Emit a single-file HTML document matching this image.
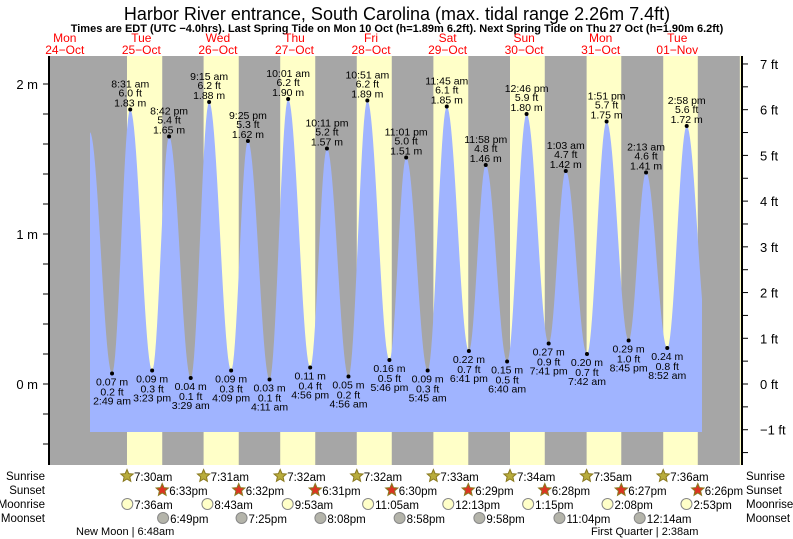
<!DOCTYPE html>
<html><head><meta charset="utf-8"><style>
html,body{margin:0;padding:0;background:#fff;}
svg{display:block;font-family:"Liberation Sans",Arial,sans-serif;}
</style></head><body>
<svg id="chart" width="793" height="539" viewBox="0 0 793 539">
<text x="397" y="20" text-anchor="middle" font-size="18" fill="#000">Harbor River entrance, South Carolina (max. tidal range 2.26m 7.4ft)</text>
<text x="397" y="32" text-anchor="middle" font-size="11" font-weight="bold" fill="#000">Times are EDT (UTC −4.0hrs). Last Spring Tide on Mon 10 Oct (h=1.89m 6.2ft). Next Spring Tide on Thu 27 Oct (h=1.90m 6.2ft)</text>
<g id="plot"></g>
</svg>
<script>
// ---- data ----
const dayNames = ["Mon","Tue","Wed","Thu","Fri","Sat","Sun","Mon","Tue"];
const dayDates = ["24\u2212Oct","25\u2212Oct","26\u2212Oct","27\u2212Oct","28\u2212Oct","29\u2212Oct","30\u2212Oct","31\u2212Oct","01\u2212Nov"];
const tideDays = [1,1,1,1,2,2,2,2,3,3,3,3,4,4,4,4,5,5,5,5,6,6,6,7,7,7,7,8,8,8];
const tideTimes = ["2:49 am","8:31 am","3:23 pm","8:42 pm","3:29 am","9:15 am","4:09 pm","9:25 pm","4:11 am","10:01 am","4:56 pm","10:11 pm","4:56 am","10:51 am","5:46 pm","11:01 pm","5:45 am","11:45 am","6:41 pm","11:58 pm","6:40 am","12:46 pm","7:41 pm","1:03 am","7:42 am","1:51 pm","8:45 pm","2:13 am","8:52 am","2:58 pm"];
const tideHeights = [0.07,1.83,0.09,1.65,0.04,1.88,0.09,1.62,0.03,1.90,0.11,1.57,0.05,1.89,0.16,1.51,0.09,1.85,0.22,1.46,0.15,1.80,0.27,1.42,0.20,1.75,0.29,1.41,0.24,1.72];
const edgeBefore = [0, "7:50 pm", 1.68];
const edgeAfter = [8, "9:40 pm", 0.30];
const sunriseTimes = ["7:30am","7:31am","7:32am","7:32am","7:33am","7:34am","7:35am","7:36am","7:37am"];
const sunsetTimes = ["6:33pm","6:32pm","6:31pm","6:30pm","6:29pm","6:28pm","6:27pm","6:26pm","6:25pm"];
const moonriseTimes = ["7:36am","8:43am","9:53am","11:05am","12:13pm","1:15pm","2:08pm","2:53pm"];
const moonsetDays = [1,2,3,4,5,6,8];
const moonsetTimes = ["6:49pm","7:25pm","8:08pm","8:58pm","9:58pm","11:04pm","12:14am"];
const mTicks = [0,1,2];
const ftTicks = [-1,0,1,2,3,4,5,6,7];

// ---- scales ----
const X0=26.5, PXH=3.19, PL=49, PR=741, PT=56, PB=465, BL=90, BR=702, BB=432;
const Y0=384, PXM=150;
function parseT(s){const m=s.trim().match(/(\d+):(\d+)\s*(am|pm)/);let h=+m[1]%12;if(m[3]=="pm")h+=12;return h+(+m[2])/60;}
function xs(day,h){return X0+(day*24+h)*PXH;}
function ym(m){return Y0-m*PXM;}
function yft(f){return Y0-f*0.3048*PXM;}
const NS="http://www.w3.org/2000/svg";
const plot=document.getElementById('plot');
function el(tag,attrs,parent,txt){const e=document.createElementNS(NS,tag);for(const k in attrs)e.setAttribute(k,attrs[k]);if(txt!==undefined)e.textContent=txt;(parent||plot).appendChild(e);return e;}

// background
let bg=el('rect',{x:PL,y:PT,width:PR-PL,height:PB-PT,fill:'#a6a6a6'});


for(let d=1;d<=9;d++){
  const sr=parseT(sunriseTimes[d-1]), ss=parseT(sunsetTimes[d-1]);
  let a=Math.max(PL,xs(d,sr)), b=Math.min(PR,xs(d,ss));
  if(b>a){const r=el('rect',{x:a,y:PT,width:b-a,height:PB-PT,fill:'#ffffc8'});
  
  }
}
// tide curve
const pts=[[xs(edgeBefore[0],parseT(edgeBefore[1])),edgeBefore[2]]];
for(let i=0;i<tideDays.length;i++)pts.push([xs(tideDays[i],parseT(tideTimes[i])),tideHeights[i]]);
pts.push([xs(edgeAfter[0],parseT(edgeAfter[1])),edgeAfter[2]]);
function hAt(x){for(let i=0;i<pts.length-1;i++){const [x1,h1]=pts[i],[x2,h2]=pts[i+1];if(x>=x1&&x<=x2){const t=(x-x1)/(x2-x1);return h1+(h2-h1)*(1-Math.cos(Math.PI*t))/2;}}return 0;}
let d=`M${BL},${BB}`;
for(let x=BL;x<=BR;x+=1)d+=` L${x},${ym(hAt(x)).toFixed(1)}`;
d+=` L${BR},${BB} Z`;
const area=el('path',{d:d,fill:'#a0b4ff'});


// extreme labels
for(let i=0;i<tideDays.length;i++){
  const x=xs(tideDays[i],parseT(tideTimes[i])), h=tideHeights[i], y=ym(h);
  const g=el('g',{'font-size':'10.5','fill':'#000','text-anchor':'middle'});
  
  
  el('circle',{cx:x,cy:y,r:2,fill:'#000'},g);
  const ft=(h*3.28084).toFixed(1)+' ft', m=h.toFixed(2)+' m';
  if(h>1){el('text',{x:x,y:y-22},g,tideTimes[i]);el('text',{x:x,y:y-13},g,ft);el('text',{x:x,y:y-3},g,m);}
  else{el('text',{x:x,y:y+12},g,m);el('text',{x:x,y:y+22},g,ft);el('text',{x:x,y:y+31},g,tideTimes[i]);}
}
// axes
let ax=el('line',{x1:PL,y1:PT,x2:PL,y2:PB,stroke:'#000','stroke-width':2});


ax=el('line',{x1:PR+1,y1:PT,x2:PR+1,y2:PB,stroke:'#000','stroke-width':2});


for(let v=-0.4;v<=2.2;v+=0.2){const y=ym(v);if(y<PT||y>PB)continue;el('line',{x1:PL-6,y1:y,x2:PL,y2:y,stroke:'#000'});}
for(const v of mTicks){const t=el('text',{x:38,y:ym(v)+5,'font-size':'13','text-anchor':'end'},plot,v+' m');
  
  }
for(let f=-1.5;f<=7;f+=0.5){const y=yft(f);if(y<PT||y>PB)continue;el('line',{x1:PR+2,y1:y,x2:PR+7,y2:y,stroke:'#000'});}
for(const f of ftTicks){const t=el('text',{x:760,y:yft(f)+5,'font-size':'13'},plot,(f<0?'\u2212'+(-f):f)+' ft');
  
  }
// day labels
for(let i=0;i<9;i++){const x=xs(i,12);
  const g=el('g',{'font-size':'12','fill':'#ff0000','text-anchor':'middle'});
  
  
  el('text',{x:x,y:42},g,dayNames[i]);el('text',{x:x,y:54},g,dayDates[i]);}
// bottom rows
const rows=["Sunrise","Sunset","Moonrise","Moonset"], ry=[476,490,504,518];
for(let r=0;r<4;r++){
  let t=el('text',{x:45,y:ry[r]+4,'font-size':'11.5','text-anchor':'end'},plot,rows[r]);
  
  
  t=el('text',{x:746,y:ry[r]+4,'font-size':'11.5'},plot,rows[r]);
  
  
}
function star(cx,cy,fill){let p='';for(let k=0;k<10;k++){const a=-Math.PI/2+k*Math.PI/5, rr=k%2?3:6.5;p+=(cx+rr*Math.cos(a)).toFixed(1)+','+(cy+rr*Math.sin(a)).toFixed(1)+' ';}return el('polygon',{points:p,fill:fill,stroke:'#8a7a20','stroke-width':1});}
function icon(kind,x,y,label){
  const g=el('g',{});
  
  
  let s;
  if(kind=='sunrise')s=star(x,y,'#b8ac3c');
  else if(kind=='sunset')s=star(x,y,'#dd3322');
  else s=el('circle',{cx:x,cy:y,r:5.5,fill:kind=='moonrise'?'#ffffc8':'#b4b4aa',stroke:'#888','stroke-width':1});
  g.appendChild(s);
  el('text',{x:x+7,y:y+5,'font-size':'11.5'},g,label);
}
for(let i=0;i<8;i++){
  icon('sunrise',xs(i+1,parseT(sunriseTimes[i])),ry[0],sunriseTimes[i]);
  icon('sunset',xs(i+1,parseT(sunsetTimes[i])),ry[1],sunsetTimes[i]);
  icon('moonrise',xs(i+1,parseT(moonriseTimes[i])),ry[2],moonriseTimes[i]);
}
for(let i=0;i<moonsetDays.length;i++)icon('moonset',xs(moonsetDays[i],parseT(moonsetTimes[i])),ry[3],moonsetTimes[i]);
let ph=el('text',{x:76,y:535,'font-size':'11'},plot,'New Moon | 6:48am');


ph=el('text',{x:591,y:535,'font-size':'11'},plot,'First Quarter | 2:38am');


</script>
</body></html>
